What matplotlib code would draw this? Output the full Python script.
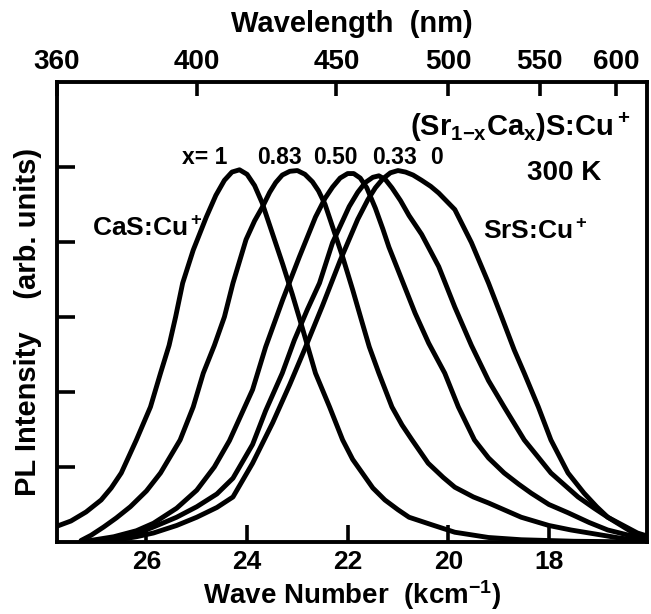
import numpy as np
import matplotlib
matplotlib.use("Agg")
import matplotlib.pyplot as plt

plt.rcParams['font.family'] = ['Liberation Sans', 'DejaVu Sans']
plt.rcParams['font.weight'] = 'bold'
plt.rcParams['mathtext.fontset'] = 'custom'
plt.rcParams['mathtext.rm'] = 'Liberation Sans:bold'
plt.rcParams['mathtext.it'] = 'Liberation Sans:bold'
plt.rcParams['mathtext.bf'] = 'Liberation Sans:bold'
plt.rcParams['mathtext.default'] = 'rm'

# PL spectra of (Sr1-xCax)S:Cu+, wave number (kcm-1) vs intensity (arb. units)
k_x100 = [27.78, 27.5, 27.2, 26.9, 26.7, 26.5, 26.2, 25.92, 25.72, 25.55, 25.42, 25.28,
          25.07, 24.81, 24.62, 24.45, 24.3, 24.15, 24.0, 23.85, 23.7, 23.5, 23.29, 23.1,
          22.9, 22.64, 22.36, 22.1, 21.9, 21.71, 21.5, 21.26, 21.0, 20.78, 20.33, 19.87,
          19.2, 18.55, 17.5, 16.05]
i_x100 = [0.21, 0.28, 0.4, 0.56, 0.72, 0.92, 1.36, 1.8, 2.25, 2.62, 3.0, 3.45,
          3.89, 4.33, 4.62, 4.82, 4.93, 4.96, 4.9, 4.75, 4.52, 4.12, 3.7, 3.3,
          2.85, 2.25, 1.8, 1.36, 1.1, 0.92, 0.72, 0.56, 0.43, 0.33, 0.23, 0.13,
          0.06, 0.03, 0.01, 0.0]

k_x083 = [27.3, 27.1, 26.85, 26.6, 26.32, 26.0, 25.72, 25.33, 25.07, 24.87, 24.65, 24.45,
          24.28, 24.02, 23.85, 23.69, 23.55, 23.43, 23.3, 23.15, 23.0, 22.85, 22.7, 22.58,
          22.45, 22.3, 22.1, 21.9, 21.71, 21.57, 21.38, 21.12, 20.92, 20.72, 20.4, 20.1,
          19.87, 19.5, 19.2, 18.55, 18.0, 17.56, 16.57, 16.05]
i_x083 = [0.02, 0.09, 0.2, 0.32, 0.47, 0.68, 0.92, 1.36, 1.8, 2.25, 2.62, 3.0,
          3.45, 4.03, 4.28, 4.47, 4.66, 4.79, 4.89, 4.94, 4.95, 4.9, 4.8, 4.68,
          4.5, 4.2, 3.8, 3.36, 2.92, 2.6, 2.25, 1.8, 1.56, 1.36, 1.05, 0.86,
          0.73, 0.6, 0.52, 0.33, 0.22, 0.16, 0.05, 0.02]

k_x050 = [27.3, 26.65, 26.2, 25.86, 25.4, 25.0, 24.65, 24.35, 23.89, 23.63, 23.29, 22.96,
          22.64, 22.45, 22.3, 22.15, 22.0, 21.88, 21.75, 21.62, 21.45, 21.3, 21.18, 20.92,
          20.66, 20.39, 20.07, 19.8, 19.48, 19.2, 18.89, 18.6, 18.35, 18.0, 17.62, 17.2,
          16.83, 16.05]
i_x050 = [0.0, 0.07, 0.15, 0.25, 0.45, 0.69, 1.0, 1.35, 2.03, 2.6, 3.23, 3.8,
          4.33, 4.58, 4.73, 4.85, 4.91, 4.91, 4.85, 4.72, 4.45, 4.17, 3.93, 3.49,
          3.05, 2.65, 2.25, 1.8, 1.36, 1.12, 0.92, 0.77, 0.65, 0.5, 0.39, 0.26,
          0.16, 0.03]

k_x033 = [27.2, 26.65, 26.2, 25.86, 25.4, 25.0, 24.6, 24.28, 23.89, 23.63, 23.3, 23.06,
          22.8, 22.56, 22.3, 22.1, 21.97, 21.8, 21.65, 21.5, 21.38, 21.25, 21.12, 20.95,
          20.78, 20.53, 20.19, 19.87, 19.54, 19.2, 18.89, 18.49, 18.2, 17.96, 17.42, 17.1,
          16.83, 16.24, 16.05]
i_x033 = [0.0, 0.04, 0.11, 0.2, 0.33, 0.47, 0.64, 0.85, 1.3, 1.75, 2.25, 2.69,
          3.1, 3.45, 3.99, 4.28, 4.47, 4.66, 4.79, 4.86, 4.88, 4.83, 4.72, 4.55,
          4.35, 4.1, 3.67, 3.13, 2.62, 2.15, 1.8, 1.36, 1.12, 0.92, 0.6, 0.45,
          0.33, 0.12, 0.08]

k_x000 = [27.0, 26.65, 26.2, 25.86, 25.4, 25.0, 24.6, 24.28, 23.89, 23.49, 23.15, 22.86,
          22.5, 22.15, 21.8, 21.6, 21.45, 21.3, 21.15, 21.0, 20.85, 20.7, 20.53, 20.35,
          20.19, 19.87, 19.54, 19.2, 18.94, 18.69, 18.49, 18.21, 17.96, 17.62, 17.3, 17.05,
          16.83, 16.32, 16.05]
i_x000 = [0.0, 0.02, 0.07, 0.12, 0.22, 0.33, 0.46, 0.6, 1.05, 1.59, 2.1, 2.56,
          3.15, 3.75, 4.3, 4.56, 4.72, 4.84, 4.92, 4.95, 4.93, 4.89, 4.82, 4.74,
          4.65, 4.43, 3.99, 3.45, 3.0, 2.56, 2.25, 1.8, 1.36, 0.92, 0.65, 0.47,
          0.33, 0.12, 0.05]

series = [(k_x100, i_x100), (k_x083, i_x083), (k_x050, i_x050),
          (k_x033, i_x033), (k_x000, i_x000)]

bottom_ticks = [26, 24, 22, 20, 18]
top_ticks = [360, 400, 450, 500, 550, 600]

x_labels = ["x= 1", "0.83", "0.50", "0.33", "0"]
x_label_pos = [25.3, 23.80, 22.69, 21.52, 20.36]


def k_to_nm(k):
    k = np.asarray(k, dtype=float)
    with np.errstate(divide='ignore'):
        return 1e4 / k


fig = plt.figure(figsize=(6.51, 6.14), dpi=100)
ax = fig.add_axes([57 / 651, 72 / 614, 590 / 651, 460 / 614])

for k, inten in series:
    ax.plot(k, inten, color='black', lw=3.5, solid_capstyle='round', solid_joinstyle='round')

ax.set_xlim(1e4 / 360, 16.05)
ax.set_ylim(0, 6.13)

ax.set_xticks(bottom_ticks)
ax.set_yticks([1, 2, 3, 4, 5])
ax.set_yticklabels([])
ax.tick_params(axis='x', direction='in', length=12, width=2.6, labelsize=19, pad=6)
ax.tick_params(axis='y', direction='in', length=13, width=2.6, right=False)
for s in ax.spines.values():
    s.set_linewidth(2.8)

# axis titles placed in figure coords to match the tight spacing of the original
fig.text(0.5 * (57 + 647) / 651, 2 / 614, r'Wave Number  (kcm$^{-1}$)',
         fontsize=20, fontweight='bold', ha='center', va='bottom')
fig.text(28 / 651, 1 - 322 / 614, 'PL Intensity    (arb. units)',
         fontsize=21, fontweight='bold', ha='center', va='center', rotation=90)
fig.text(0.5 * (57 + 647) / 651, 1 - 24 / 614, 'Wavelength  (nm)',
         fontsize=21, fontweight='bold', ha='center', va='center')

top = ax.secondary_xaxis('top', functions=(k_to_nm, k_to_nm))
top.set_xticks(top_ticks)
top.tick_params(direction='in', length=10, width=2.6, labelsize=20, pad=5)

for lab, xp in zip(x_labels, x_label_pos):
    ax.text(xp, 5.12, lab, fontsize=16.5, fontweight='bold', ha='left', va='center')

ax.text(20.76, 5.52, r'(Sr$_{1\mathrm{-}x}$Ca$_x$)S:Cu$^+$', fontsize=21, ha='left', va='center')
ax.text(18.44, 4.92, '300 K', fontsize=20, fontweight='bold', ha='left', va='center')
ax.text(19.31, 4.13, r'SrS:Cu$^+$', fontsize=19, ha='left', va='center')
ax.text(27.08, 4.17, r'CaS:Cu$^+$', fontsize=19, ha='left', va='center')

fig.savefig('out.png', dpi=100)
